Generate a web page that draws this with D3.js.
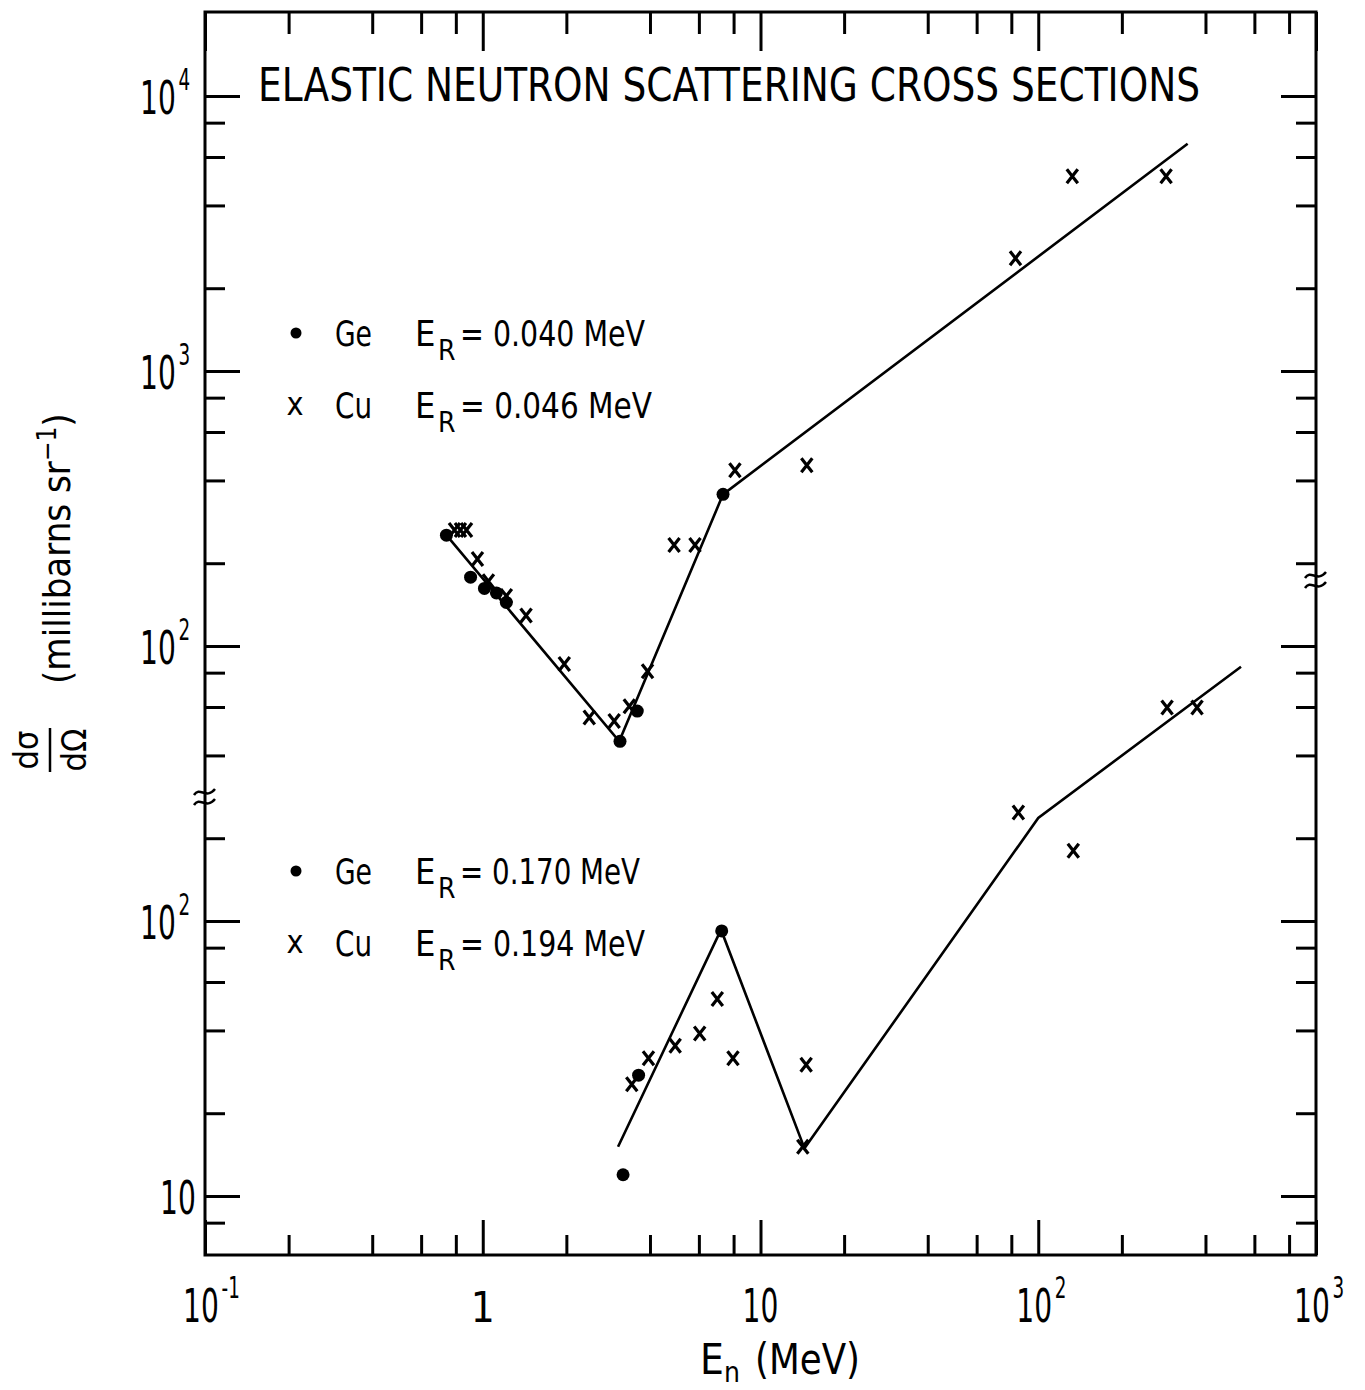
<!DOCTYPE html>
<html><head><meta charset="utf-8">
<script src="https://cdn.jsdelivr.net/npm/d3@7"></script>
<style>
html,body{margin:0;padding:0;background:#fff;}
svg text{font-family:"DejaVu Sans Condensed","Liberation Sans Narrow","DejaVu Sans",sans-serif;fill:#000;}
</style></head><body>
<svg id="c" width="1365" height="1390"></svg>
<script>
// ---------------- data ----------------
const xMajorTicks = [0.1, 1, 10, 100, 1000];
const xMajorLabels = [["10","-1"],["1",""],["10",""],["10","2"],["10","3"]];
const xMinorTicks = [0.2,0.4,0.6,0.8,2,4,6,8,20,40,60,80,200,400,600,800];

// upper panel (scale labelled 10^2..10^4)
const upperGe = [[0.74,253],[0.904,178],[1.014,162],[1.12,156],[1.216,144],[3.12,45],[3.6,58],[7.33,356]];
const upperCu = [[0.791,264],[0.831,264],[0.874,264],[0.957,207],[1.048,172],[1.216,152],[1.432,129],
                 [1.966,86],[2.418,55],[2.973,53.4],[3.37,60.4],[3.92,81],[4.885,233],[5.81,233],
                 [8.09,436],[14.68,454],[82.8,2570],[132.6,5110],[288.6,5110]];
const upperLine = [[0.74,253],[3.1,45],[7.33,356],[345,6700]];
// lower panel (scale labelled 10..10^2)
const lowerGe = [[3.2,11.95],[3.64,27.5],[7.25,92]];
const lowerCu = [[3.44,25.5],[3.95,31.7],[4.93,35.2],[6.04,39],[6.99,52],[7.96,31.7],[14.6,30],
                 [14.2,15.1],[84.8,248],[133.7,180],[291,597],[373,597]];
const lowerLine = [[3.07,15.1],[7.21,93],[14.4,14.9],[100,237],[537,841]];

// y-axis ticks
const lowerMajor = [10,100];
const lowerMinorLeft = [8,20,40,60,80,200];
const upperMajor = [100,1000,10000];
const upperMinorLeft = [40,60,80,200,400,600,800,2000,4000,6000,8000];
const lowerMinorRight = [8,20,40,60,80,200,400,600,800];
const lowerMajorRight = [10,100,1000];
const upperMinorRight = [200,400,600,800,2000,4000,6000,8000];
const upperMajorRight = [1000,10000];
const upperLabels = [[10000,"4"],[1000,"3"],[100,"2"]];
const lowerLabels = [[100,"2"],[10,""]];

const legendUpper = [["Ge","0.040"],["Cu","0.046"]];
const legendLower = [["Ge","0.170"],["Cu","0.194"]];

// ---------------- layout ----------------
const L=205, R=1316, T=12, B=1255;
const svg = d3.select("#c");
const x = d3.scaleLog().domain([0.1,1000]).range([L,R]);
const yLower = d3.scaleLog().domain([10,100]).range([1196,921]);
const yUpper = d3.scaleLog().domain([100,10000]).range([646,96]);
const MAJ=35, MIN=20;

function axisG(axis, tx, ty){
  const g = svg.append("g").attr("transform",`translate(${tx},${ty})`).call(axis);
  g.select(".domain").remove();
  g.selectAll(".tick line").attr("stroke","#000").attr("stroke-width",3);
  g.selectAll(".tick text").remove();
  return g;
}
// bottom & top
axisG(d3.axisBottom(x).tickValues(xMajorTicks).tickSize(-MAJ).tickFormat(""),0,B);
axisG(d3.axisBottom(x).tickValues(xMinorTicks).tickSize(-MIN).tickFormat(""),0,B);
axisG(d3.axisTop(x).tickValues(xMajorTicks).tickSize(-39).tickFormat(""),0,T);
axisG(d3.axisTop(x).tickValues(xMinorTicks).tickSize(-22).tickFormat(""),0,T);
// left
axisG(d3.axisLeft(yLower).tickValues(lowerMajor).tickSize(-MAJ).tickFormat(""),L,0);
axisG(d3.axisLeft(yLower).tickValues(lowerMinorLeft).tickSize(-MIN).tickFormat(""),L,0);
axisG(d3.axisLeft(yUpper).tickValues(upperMajor).tickSize(-MAJ).tickFormat(""),L,0);
axisG(d3.axisLeft(yUpper).tickValues(upperMinorLeft).tickSize(-MIN).tickFormat(""),L,0);
// right
axisG(d3.axisRight(yLower).tickValues(lowerMajorRight).tickSize(-MAJ).tickFormat(""),R,0);
axisG(d3.axisRight(yLower).tickValues(lowerMinorRight).tickSize(-MIN).tickFormat(""),R,0);
axisG(d3.axisRight(yUpper).tickValues(upperMajorRight).tickSize(-MAJ).tickFormat(""),R,0);
axisG(d3.axisRight(yUpper).tickValues(upperMinorRight).tickSize(-MIN).tickFormat(""),R,0);

// frame
svg.append("rect").attr("x",L).attr("y",T).attr("width",R-L).attr("height",B-T)
  .attr("fill","none").attr("stroke","#000").attr("stroke-width",3);

// break marks
function brk(cx, cy){
  [-5,5].forEach(dy=>{
    svg.append("path")
      .attr("d",`M${cx-11},${cy+dy+3} C${cx-5},${cy+dy-6} ${cx+1},${cy+dy+8} ${cx+10},${cy+dy-3}`)
      .attr("fill","none").attr("stroke","#000").attr("stroke-width",2.5);
  });
}
brk(L, 797);
brk(R, 580);

// text helper
function txt(s, tx, ty, size, opts={}){
  const t = svg.append("text").attr("x",tx).attr("y",ty).attr("font-size",size).text(s);
  if(opts.anchor) t.attr("text-anchor",opts.anchor);
  if(opts.len){ t.attr("textLength",opts.len).attr("lengthAdjust","spacingAndGlyphs"); }
  return t;
}
// narrow tick label: base + optional superscript, in one text element
function sci(gx, gy, base, sup){
  const g = svg.append("g").attr("transform",`translate(${gx},${gy}) scale(0.68,1)`);
  const t = g.append("text").attr("x",0).attr("y",0).attr("font-size",46);
  t.append("tspan").text(base);
  if(sup) t.append("tspan").attr("dx",4).attr("dy",-24).attr("font-size",30).text(sup);
}

// x tick labels
xMajorTicks.forEach((v,i)=>{
  const [base,sup] = xMajorLabels[i];
  const px = x(v);
  if(base==="1"){ txt("1", px, 1322, 42, {anchor:"middle"}); return; }
  sci(sup ? px-22 : px-18, 1322, base, sup);
});
// y tick labels
upperLabels.forEach(([v,s])=>{ sci(140, yUpper(v)+18, "10", s); });
lowerLabels.forEach(([v,s])=>{ sci(s?140:160, yLower(v)+18, "10", s); });

// title
txt("ELASTIC NEUTRON SCATTERING CROSS SECTIONS", 258, 101, 46, {len:942});

// axis titles
const yl = svg.append("g").attr("transform","rotate(-90)");
yl.append("text").attr("x",-750).attr("y",38).attr("font-size",34).attr("text-anchor","middle").text("dσ");
yl.append("line").attr("x1",-772).attr("x2",-728).attr("y1",50).attr("y2",50).attr("stroke","#000").attr("stroke-width",2.5);
yl.append("text").attr("x",-750).attr("y",86).attr("font-size",34).attr("text-anchor","middle").text("dΩ");
const ylt = yl.append("text").attr("x",-684).attr("y",70).attr("font-size",38);
ylt.append("tspan").text("(millibarns sr");
ylt.append("tspan").attr("dy",-14).attr("font-size",26).text("−1");
ylt.append("tspan").attr("dy",14).text(")");

const xt = svg.append("text").attr("x",700).attr("y",1374).attr("font-size",42);
xt.append("tspan").text("E");
xt.append("tspan").attr("dy",8).attr("font-size",28).text("n");
txt("(MeV)", 755, 1374, 42, {len:105});

// legends
function legend(rows, y0, y1){
  const ys=[y0,y1];
  rows.forEach(([el,er],i)=>{
    const cy = ys[i];
    if(i===0) svg.append("circle").attr("cx",296).attr("cy",cy).attr("r",5.5).attr("fill","#000");
    else txt("x", 295, cy+10, 32, {anchor:"middle"});
    txt(el, 335, cy+13, 36, {len:37});
    txt("E", 415, cy+13, 36);
    txt("R", 438, cy+27, 28);
    txt("= "+er+" MeV", 460, cy+13, 36, {len: er==="0.170"?180:(er==="0.046"?192:185)});
  });
}
legend(legendUpper, 333, 405);
legend(legendLower, 871, 943);

// data lines
const line = (ys)=> d3.line().x(d=>x(d[0])).y(d=>ys(d[1]));
svg.append("path").datum(upperLine).attr("d",line(yUpper)).attr("fill","none").attr("stroke","#000").attr("stroke-width",2.6);
svg.append("path").datum(lowerLine).attr("d",line(yLower)).attr("fill","none").attr("stroke","#000").attr("stroke-width",2.6);

// markers
function dots(data, ys){
  svg.append("g").selectAll("circle").data(data).join("circle")
    .attr("cx",d=>x(d[0])).attr("cy",d=>ys(d[1])).attr("r",6.5).attr("fill","#000");
}
function crosses(data, ys){
  svg.append("g").selectAll("path").data(data).join("path")
    .attr("transform",d=>`translate(${x(d[0])},${ys(d[1])})`)
    .attr("d","M-5.5,-7 L5.5,7 M5.5,-7 L-5.5,7")
    .attr("stroke","#000").attr("stroke-width",3.2).attr("fill","none");
}
dots(upperGe, yUpper); crosses(upperCu, yUpper);
dots(lowerGe, yLower); crosses(lowerCu, yLower);
</script>
</body></html>
